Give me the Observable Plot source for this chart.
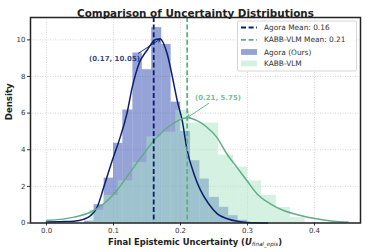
<!DOCTYPE html>
<html><head><meta charset="utf-8">
<script src="https://cdn.jsdelivr.net/npm/d3@7"></script>
<script src="https://cdn.jsdelivr.net/npm/@observablehq/plot@0.6"></script>
<style>body{margin:0;background:#fff} svg{display:block} #chart{width:366px;height:252px}</style>
</head><body><div id="chart"></div>
<script>
// ---- data ----
const agoraEdges = [0.057,0.071,0.086,0.100,0.114,0.129,0.143,0.157,0.172,0.186,0.200,0.215,0.229,0.243,0.258,0.272,0.286,0.300];
const agoraHeights = [0.1,1.0,2.45,4.35,6.17,9.28,8.37,10.67,9.75,6.6,5.0,3.4,2.4,1.4,0.86,0.4,0.15];
const kabbEdges = [0.0645,0.086,0.107,0.129,0.150,0.171,0.193,0.214,0.236,0.257,0.279,0.300,0.321,0.343,0.364,0.386];
const kabbHeights = [0.7,1.5,2.3,3.3,4.7,4.96,6.15,5.45,5.45,3.7,3.05,2.3,1.5,0.85,0.3];
const agoraKdeX = [0.0,0.02,0.041,0.055,0.066,0.0756,0.0855,0.098,0.110,0.120,0.128,0.138,0.150,0.163,0.170,0.180,0.190,0.195,0.2025,0.21,0.22,0.23,0.242,0.255,0.27,0.285,0.30,0.33];
const agoraKdeY = [0.05,0.07,0.1,0.2,0.41,0.86,1.96,3.4,4.69,5.97,7.42,8.7,9.43,10.02,10.05,9.25,7.6,6.7,5.6,3.96,2.69,1.78,1.05,0.5,0.23,0.09,0.03,0.0];
const kabbKdeX = [0.0,0.041,0.066,0.0855,0.105,0.125,0.145,0.165,0.185,0.205,0.21,0.224,0.239,0.254,0.269,0.284,0.299,0.314,0.334,0.354,0.379,0.403,0.428,0.45];
const kabbKdeY = [0.14,0.32,0.6,1.05,1.78,2.78,3.78,4.69,5.33,5.72,5.75,5.6,5.24,4.69,3.78,3.05,2.32,1.6,1.05,0.68,0.41,0.23,0.1,0.05];
const means = [{name:"Agora", v:0.16}, {name:"KABB-VLM", v:0.21}];
const peaks = [{x:0.17, y:10.05, tx:0.1015, ty:8.99, ax:0.137, ay:9.26, label:"(0.17, 10.05)", c:"navy"},
               {x:0.21, y:5.75, tx:0.256, ty:6.82, ax:0.242, ay:6.53, label:"(0.21, 5.75)", c:"green"}];
const xTicks = [0.0,0.1,0.2,0.3,0.4];
const yTicks = [0,2,4,6,8,10];
const legendLabels = ["Agora Mean: 0.16","KABB-VLM Mean: 0.21","Agora (Ours)","KABB-VLM"];
const titleText = "Comparison of Uncertainty Distributions";

const NAVY = "#0b1f6e", GREEN = "#62ad88";
const AG_FILL = "#2b48b0", KB_FILL = "#a9e3c6";

const agoraBins = agoraHeights.map((h,i)=>({x1:agoraEdges[i], x2:agoraEdges[i+1], y:h}));
const kabbBins = kabbHeights.map((h,i)=>({x1:kabbEdges[i], x2:kabbEdges[i+1], y:h}));
const agoraKde = agoraKdeX.map((x,i)=>({x, y:agoraKdeY[i]}));
const kabbKde = kabbKdeX.map((x,i)=>({x, y:kabbKdeY[i]}));
const colorOf = c => c==="navy" ? NAVY : GREEN;

const plot = Plot.plot({
  width: 366, height: 252,
  marginLeft: 30, marginRight: 6, marginTop: 17, marginBottom: 29.5,
  style: {fontFamily: "DejaVu Sans", fontSize: "7px", color: "#333", background: "#fff"},
  x: {domain: [-0.0239, 0.4687], ticks: xTicks, tickFormat: d3.format(".1f"), tickSize: 3, label: null},
  y: {domain: [0, 11.22], ticks: yTicks, tickSize: 3, label: null},
  marks: [
    Plot.gridX(xTicks, {stroke: "#aaa", strokeOpacity: 0.8, strokeDasharray: "1,1.5", strokeWidth: 0.6}),
    Plot.gridY(yTicks, {stroke: "#aaa", strokeOpacity: 0.8, strokeDasharray: "1,1.5", strokeWidth: 0.6}),
    Plot.rectY(agoraBins, {x1:"x1", x2:"x2", y:"y", fill: AG_FILL, fillOpacity: 0.5, inset: 0}),
    Plot.rectY(kabbBins, {x1:"x1", x2:"x2", y:"y", fill: KB_FILL, fillOpacity: 0.5, inset: 0}),
    Plot.line(agoraKde, {x:"x", y:"y", stroke: NAVY, strokeWidth: 1.5, curve: "monotone-x"}),
    Plot.line(kabbKde, {x:"x", y:"y", stroke: GREEN, strokeWidth: 1.5, curve: "monotone-x"}),
    Plot.ruleX([means[0]], {x:"v", stroke: NAVY, strokeWidth: 1.8, strokeDasharray: "5,2.6"}),
    Plot.ruleX([means[1]], {x:"v", stroke: GREEN, strokeWidth: 1.8, strokeDasharray: "5,2.6"}),
    Plot.arrow(peaks, {x1:"ax", y1:"ay", x2:"x", y2:"y", stroke: d=>colorOf(d.c), strokeWidth: 0.9, headLength: 6, bend: 0, insetEnd: 0}),
    Plot.text(peaks, {x:"tx", y:"ty", text:"label", fill: d=>colorOf(d.c), fontSize: 7, fontWeight: 600, fillOpacity: 0.85}),
    Plot.axisX({ticks: xTicks, tickFormat: d3.format(".1f"), tickSize: 3, tickPadding: 2, fontSize: 7, label: null}),
    Plot.axisY({ticks: yTicks, tickSize: 3, tickPadding: 2, fontSize: 7, label: null}),
    Plot.frame({stroke: "#222", strokeWidth: 1.5}),
    Plot.text([titleText], {frameAnchor: "top", dy: -8, fontSize: 10.4, fontWeight: "bold", fill: "#222"}),
    Plot.text(["Density"], {frameAnchor: "left", dx: -21, rotate: -90, fontSize: 8.6, fontWeight: "bold", fill: "#222"})
  ]
});
document.getElementById("chart").appendChild(plot);

// x-axis label with italic/subscript
const svg = d3.select(plot);
const xl = svg.append("text").attr("x", 195).attr("y", 244.5).attr("text-anchor", "middle")
  .attr("font-family", "DejaVu Sans").attr("font-size", 8.4).attr("font-weight", "bold").attr("fill", "#222");
xl.append("tspan").text("Final Epistemic Uncertainty (");
xl.append("tspan").attr("font-style", "italic").text("U");
xl.append("tspan").attr("font-style", "italic").attr("font-weight", "normal").attr("font-size", 5.6).attr("dy", 1.8).text("final_epis");
xl.append("tspan").attr("dy", -1.8).text(")");

// legend
const lg = svg.append("g").attr("font-family", "DejaVu Sans").attr("font-size", 7.4).attr("fill", "#333").attr("text-anchor", "start");
lg.append("rect").attr("x", 237.5).attr("y", 21).attr("width", 119).attr("height", 50).attr("rx", 1.5)
  .attr("fill", "#fff").attr("fill-opacity", 0.85).attr("stroke", "#ccc").attr("stroke-width", 0.8);
const rows = [27.5, 39.8, 52, 63.5];
lg.append("line").attr("x1", 241).attr("x2", 257).attr("y1", rows[0]).attr("y2", rows[0]).attr("stroke", NAVY).attr("stroke-width", 1.8).attr("stroke-dasharray", "5,2.6");
lg.append("line").attr("x1", 241).attr("x2", 257).attr("y1", rows[1]).attr("y2", rows[1]).attr("stroke", GREEN).attr("stroke-width", 1.8).attr("stroke-dasharray", "5,2.6");
lg.append("rect").attr("x", 241).attr("y", rows[2]-2.9).attr("width", 16).attr("height", 5.8).attr("fill", AG_FILL).attr("fill-opacity", 0.5);
lg.append("rect").attr("x", 241).attr("y", rows[3]-2.9).attr("width", 16).attr("height", 5.8).attr("fill", KB_FILL).attr("fill-opacity", 0.5);
legendLabels.forEach((t,i)=>{
  lg.append("text").attr("x", 264).attr("y", rows[i]).attr("dy", "0.35em").attr("text-anchor", "start").text(t);
});
</script></body></html>
